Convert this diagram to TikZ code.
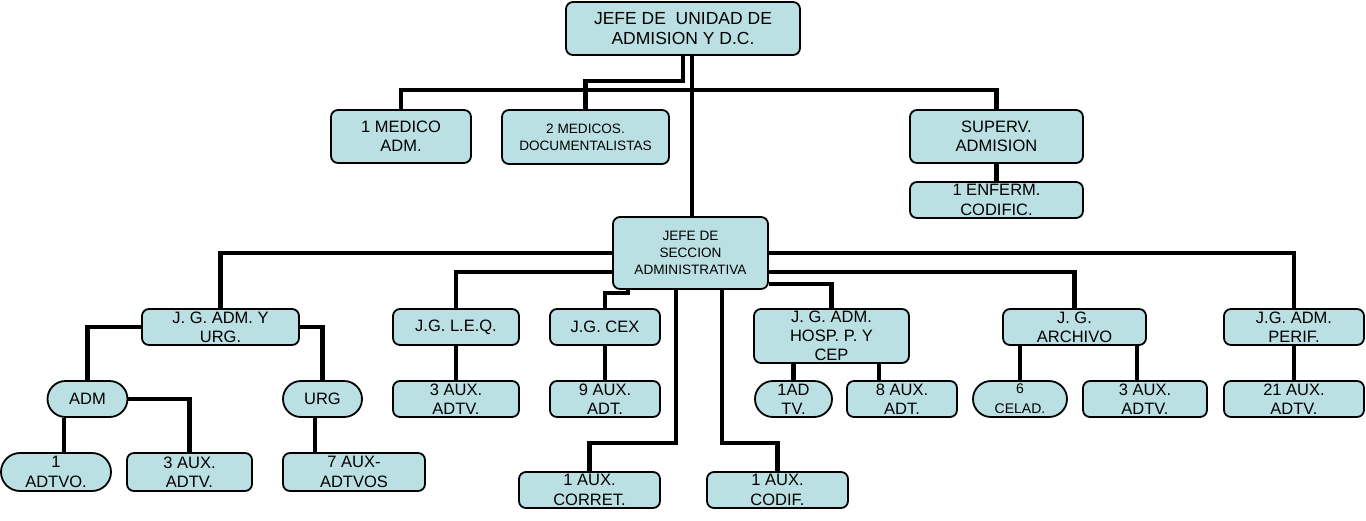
\documentclass[tikz,border=0pt]{standalone}
\usepackage{fontspec}
\setmainfont{Liberation Sans}
\usetikzlibrary{shapes.misc}
\definecolor{boxblue}{RGB}{187,224,228}
\newcommand{\bigtxt}{\fontsize{16.5}{19.3}\selectfont}
\newcommand{\smalltxt}{\fontsize{13.6}{16.7}\selectfont}
\begin{document}
\begin{tikzpicture}[x=1pt,y=-1pt]
        \tikzstyle{unit}=[draw=black,line width=1.8pt,fill=boxblue,rounded corners=7pt,align=center,inner sep=0pt,font=\bigtxt]
        \tikzstyle{pill}=[draw=black,line width=1.8pt,fill=boxblue,rounded rectangle,align=center,inner sep=0pt,font=\bigtxt]
        \tikzstyle{link}=[draw,line width=4.5pt]
        \useasboundingbox (0,0) rectangle (1366,520);
       \begin{scope}
         % top level
         \node [unit,minimum width=234,minimum height=53,font=\fontsize{17.5}{19.5}\selectfont] (jefe) at (683,28.5) {JEFE DE\ \ UNIDAD DE\\ADMISION Y D.C.};
         \node [unit,minimum width=140,minimum height=53] (med) at (401,136.5) {1 MEDICO\\ADM.};
         \node [unit,minimum width=167,minimum height=54,font=\smalltxt] (doc) at (585.5,137) {2 MEDICOS.\\DOCUMENTALISTAS};
         \node [unit,minimum width=173,minimum height=53] (sup) at (996.5,136.5) {SUPERV.\\ADMISION};
         \node [unit,minimum width=173,minimum height=36] (enf) at (996.5,200) {1 ENFERM.\\CODIFIC.};
         \node [unit,minimum width=155,minimum height=72,font=\smalltxt] (sec) at (690.5,253) {JEFE DE\\SECCION\\ADMINISTRATIVA};
         % jefes de grupo
         \node [unit,minimum width=157,minimum height=36] (urgj) at (220.5,327) {J. G. ADM. Y\\URG.};
         \node [unit,minimum width=126,minimum height=36] (leq) at (456,327) {J.G. L.E.Q.};
         \node [unit,minimum width=110,minimum height=36] (cex) at (605,327) {J.G. CEX};
         \node [unit,minimum width=155,minimum height=54] (hosp) at (831.5,336) {J. G. ADM.\\HOSP. P. Y\\CEP};
         \node [unit,minimum width=143,minimum height=36] (arch) at (1074.5,327) {J. G.\\ARCHIVO};
         \node [unit,minimum width=140,minimum height=36] (perif) at (1294,327) {J.G. ADM.\\PERIF.};
         % third row
         \node [pill,minimum width=80,minimum height=36] (adm) at (87.5,399) {ADM};
         \node [pill,minimum width=79,minimum height=36] (urg) at (322.5,399) {URG};
         \node [unit,minimum width=126,minimum height=36] (leqaux) at (456,399) {3 AUX.\\ADTV.};
         \node [unit,minimum width=110,minimum height=36] (cexaux) at (605,399) {9 AUX.\\ADT.};
         \node [pill,minimum width=77,minimum height=36] (hospad) at (793.5,399) {1AD\\TV.};
         \node [unit,minimum width=110,minimum height=36] (hospaux) at (902,399) {8 AUX.\\ADT.};
         \node [pill,minimum width=94,minimum height=36,font=\fontsize{14}{20}\selectfont] (cel) at (1020,399) {6\\CELAD.};
         \node [unit,minimum width=124,minimum height=36] (archaux) at (1145,399) {3 AUX.\\ADTV.};
         \node [unit,minimum width=140,minimum height=36] (perifaux) at (1294,399) {21 AUX.\\ADTV.};
         % bottom row
         \node [pill,minimum width=110,minimum height=38] (admvo) at (56,472) {1\\ADTVO.};
         \node [unit,minimum width=125,minimum height=38] (admaux) at (189.5,472) {3 AUX.\\ADTV.};
         \node [unit,minimum width=142,minimum height=38] (urgaux) at (354,472) {7 AUX-\\ADTVOS};
         \node [unit,minimum width=141,minimum height=36] (corr) at (589.5,490) {1 AUX.\\CORRET.};
         \node [unit,minimum width=141,minimum height=36] (codif) at (777.5,490) {1 AUX.\\CODIF.};
         % connectors
         \draw[link] ([xshift=0pt]jefe.south) -- ++(0,25) -| (doc.north);
         \draw[link] ([xshift=9pt]jefe.south) -- ([xshift=9pt]jefe.south |- sec.north);
         \draw[link] (med.north) -- ++(0,-19) -| (sup.north);
         \draw[link] (sup.south) -- (enf.north);
         \draw[link] (sec.west) -| (urgj.north);
         \draw[link] ([yshift=-19pt]sec.west) -| (leq.north);
         \draw[link] ([xshift=-62.5pt]sec.south) -- ++(0,3) -| (cex.north);
         \draw[link] ([xshift=-14.5pt]sec.south) -- ++(0,153) -| (corr.north);
         \draw[link] ([xshift=31.5pt]sec.south) -- ++(0,153) -| (codif.north);
         \draw[link] ([yshift=-31pt]sec.east) -| (hosp.north);
         \draw[link] ([yshift=-19pt]sec.east) -| (arch.north);
         \draw[link] (sec.east) -| (perif.north);
         \draw[link] (urgj.west) -| (adm.north);
         \draw[link] (urgj.east) -| (urg.north);
         \draw[link] ([xshift=-23.5pt]adm.south) -- ([xshift=-23.5pt]adm.south |- admvo.north);
         \draw[link] (adm.east) -| (admaux.north);
         \draw[link] ([xshift=-7.5pt]urg.south) -- ([xshift=-7.5pt]urg.south |- urgaux.north);
         \draw[link] (leq.south) -- (leqaux.north);
         \draw[link] (cex.south) -- (cexaux.north);
         \draw[link] (hospad.north |- hosp.south) -- (hospad.north);
         \draw[link] ([xshift=47.5pt]hosp.south) -- ([xshift=47.5pt]hosp.south |- hospaux.north);
         \draw[link] (cel.north |- arch.south) -- (cel.north);
         \draw[link] ([xshift=62.5pt]arch.south) -- ([xshift=62.5pt]arch.south |- archaux.north);
         \draw[link] (perif.south) -- (perifaux.north);
        \end{scope}
\end{tikzpicture}
\end{document}
